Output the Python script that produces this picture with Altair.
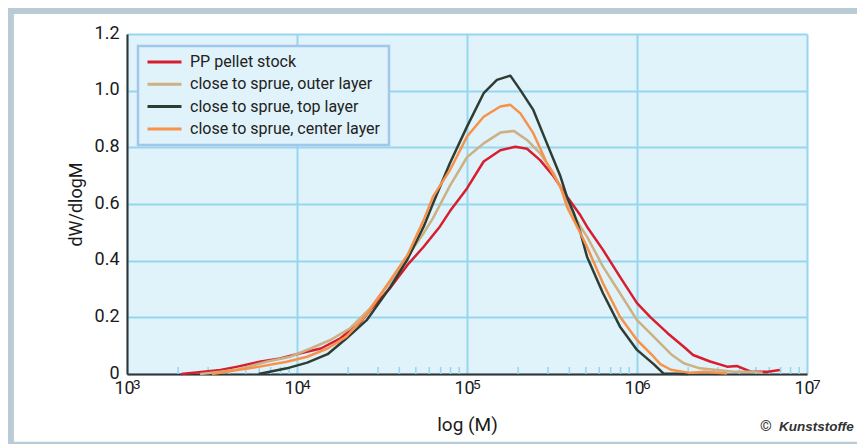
import altair as alt
import pandas as pd
import numpy as np

# ---------------- data ----------------
series_names = [
    "PP pellet stock",
    "close to sprue, outer layer",
    "close to sprue, top layer",
    "close to sprue, center layer",
]
series_colors = ["#D71E2E", "#CDB083", "#2E3D34", "#F7924A"]

red_logm = [3.32, 3.45, 3.55, 3.65, 3.78, 3.90, 4.02, 4.14, 4.255, 4.37, 4.43, 4.55, 4.65,
            4.745, 4.84, 4.90, 5.0, 5.098, 5.196, 5.284, 5.353, 5.43, 5.51, 5.59, 5.667,
            5.706, 5.80, 5.90, 6.0, 6.08, 6.18, 6.275, 6.33, 6.43, 6.53, 6.59, 6.67, 6.77, 6.84]
red_y = [0.0, 0.008, 0.014, 0.026, 0.043, 0.055, 0.073, 0.09, 0.126, 0.18, 0.225, 0.305, 0.385,
         0.449, 0.52, 0.575, 0.655, 0.75, 0.79, 0.802, 0.795, 0.755, 0.697, 0.625, 0.56,
         0.52, 0.438, 0.343, 0.25, 0.2, 0.144, 0.096, 0.067, 0.044, 0.026, 0.028, 0.008, 0.008, 0.014]

tan_logm = [3.43, 3.55, 3.65, 3.82, 3.96, 4.08, 4.196, 4.31, 4.43, 4.55, 4.65, 4.745, 4.80,
            4.90, 5.0, 5.098, 5.196, 5.275, 5.353, 5.43, 5.51, 5.59, 5.667, 5.706, 5.80,
            5.90, 6.0, 6.098, 6.137, 6.2, 6.275, 6.37, 6.47, 6.57, 6.67, 6.74]
tan_y = [0.0, 0.008, 0.016, 0.043, 0.061, 0.09, 0.12, 0.16, 0.232, 0.326, 0.415, 0.497, 0.55,
         0.665, 0.765, 0.814, 0.852, 0.858, 0.826, 0.779, 0.708, 0.605, 0.52, 0.485, 0.379,
         0.285, 0.19, 0.132, 0.108, 0.07, 0.038, 0.02, 0.014, 0.008, 0.008, 0.004]

black_logm = [3.774, 3.94, 4.06, 4.18, 4.29, 4.41, 4.55, 4.65, 4.745, 4.80, 4.90, 5.0, 5.098,
              5.176, 5.255, 5.314, 5.39, 5.47, 5.55, 5.588, 5.627, 5.667, 5.706, 5.80, 5.90,
              6.0, 6.098, 6.155, 6.3]
black_y = [0.0, 0.02, 0.04, 0.07, 0.125, 0.19, 0.308, 0.405, 0.52, 0.602, 0.745, 0.873, 0.991,
           1.038, 1.053, 1.002, 0.932, 0.814, 0.697, 0.625, 0.57, 0.5, 0.414, 0.285, 0.167,
           0.085, 0.035, 0.002, 0.0]

orange_logm = [3.50, 3.65, 3.78, 3.94, 4.06, 4.18, 4.29, 4.41, 4.55, 4.65, 4.745, 4.80, 4.90,
               5.0, 5.098, 5.196, 5.255, 5.314, 5.39, 5.47, 5.55, 5.588, 5.667, 5.706, 5.80,
               5.90, 6.0, 6.098, 6.137, 6.2, 6.31, 6.4, 6.53]
orange_y = [0.0, 0.014, 0.026, 0.043, 0.061, 0.09, 0.132, 0.21, 0.332, 0.42, 0.543, 0.626, 0.72,
            0.838, 0.908, 0.944, 0.95, 0.92, 0.85, 0.744, 0.661, 0.59, 0.497, 0.449, 0.32,
            0.202, 0.12, 0.061, 0.035, 0.015, 0.004, 0.008, 0.002]

x_ticks = [3, 4, 5, 6, 7]
x_tick_base = "10"
x_tick_exponents = ["3", "4", "5", "6", "7"]
y_ticks = [0, 0.2, 0.4, 0.6, 0.8, 1.0, 1.2]
minor_multipliers = [2, 3, 4, 5, 6, 7, 8, 9]
minor_decades = [3, 4, 5, 6]

x_title = "log (M)"
y_title = "dW/dlogM"
credit_symbol = ["©"]
credit_text = ["Kunststoffe"]

# ---------------- tables ----------------
frames = []
for name, xs, ys in zip(series_names,
                        [red_logm, tan_logm, black_logm, orange_logm],
                        [red_y, tan_y, black_y, orange_y]):
    frames.append(pd.DataFrame({"logM": xs, "y": ys, "series": name,
                                "order": list(range(len(xs)))}))
df = pd.concat(frames, ignore_index=True)

minor_df = pd.DataFrame({"logM": [d + float(np.log10(m)) for d in minor_decades
                                  for m in minor_multipliers]})
exp_df = pd.DataFrame({"logM": x_ticks, "exp": x_tick_exponents})

W, H = 680, 340
FONT = "Roboto"
GRID = "#96D6F0"
BG = "#E0F2FA"
TXT = "#1a1a1a"

x_scale = alt.Scale(domain=[3, 7], nice=False, zero=False)
y_label_expr = "datum.value == 0 ? '0' : format(datum.value, '.1f')"

x_enc = alt.X(
    "logM:Q",
    scale=x_scale,
    axis=alt.Axis(values=x_ticks, labelExpr=f"'{x_tick_base}'", title=x_title,
                  grid=True, gridColor=GRID, gridWidth=2, ticks=False,
                  domainColor="#333333", domainWidth=2, labelFlush=False,
                  labelFontSize=18, labelPadding=5, labelColor=TXT, labelOffset=-3,
                  labelFont=FONT, titleFont=FONT, titleFontSize=19,
                  titleFontWeight="normal", titleColor=TXT, titlePadding=18),
)
y_enc = alt.Y(
    "y:Q",
    scale=alt.Scale(domain=[0, 1.2], nice=False),
    axis=alt.Axis(values=y_ticks, labelExpr=y_label_expr, title=y_title,
                  grid=True, gridColor=GRID, gridWidth=2, ticks=False,
                  domainColor="#333333", domainWidth=2, labelFlush=False,
                  labelFontSize=18, labelPadding=8, labelColor=TXT, labelOffset=-1,
                  labelFont=FONT, titleFont=FONT, titleFontSize=18,
                  titleFontWeight="normal", titleColor=TXT, titlePadding=9),
)

lines = alt.Chart(df).mark_line(strokeWidth=2.5, strokeJoin="round").encode(
    x=x_enc,
    y=y_enc,
    color=alt.Color(
        "series:N",
        scale=alt.Scale(domain=series_names, range=series_colors),
        sort=series_names,
        legend=alt.Legend(orient="none", legendX=11, legendY=12, title=None,
                          symbolType="stroke", symbolSize=1156, symbolStrokeWidth=3,
                          clipHeight=16, rowPadding=6.3, labelFontSize=16,
                          labelFont=FONT, labelColor="#222222", labelOffset=7,
                          labelLimit=400, fillColor=BG, strokeColor="#A3C6EA",
                          padding=8),
    ),
    order="order:Q",
)

minor_ticks = alt.Chart(minor_df).mark_rule(color=GRID, strokeWidth=1.5).encode(
    x=alt.X("logM:Q", scale=x_scale),
    y=alt.value(H - 7),
    y2=alt.value(H),
)

exponents = alt.Chart(exp_df).mark_text(
    font=FONT, fontSize=13.5, color=TXT, align="left", baseline="alphabetic", dx=6
).encode(x=alt.X("logM:Q", scale=x_scale), y=alt.value(H + 15), text="exp:N")

frame = alt.Chart(pd.DataFrame({"k": [0]})).mark_rect(
    fill="transparent", stroke="#B9CBD4", strokeWidth=7
).encode(
    x=alt.value(-116.6), x2=alt.value(800), y=alt.value(-23.6), y2=alt.value(411.2)
)

credit_sym = alt.Chart(pd.DataFrame({"t": credit_symbol})).mark_text(
    font=FONT, fontSize=15, color="#333333", align="left", baseline="alphabetic"
).encode(text="t:N", x=alt.value(633), y=alt.value(397))

credit_txt = alt.Chart(pd.DataFrame({"t": credit_text})).mark_text(
    font="Liberation Sans", fontSize=13.5, fontWeight="bold", fontStyle="italic",
    color="#333333", align="left", baseline="alphabetic"
).encode(text="t:N", x=alt.value(652), y=alt.value(397))

chart = alt.layer(minor_ticks, lines, exponents, frame, credit_sym, credit_txt).properties(
    width=W, height=H,
    autosize=alt.AutoSizeParams(type="none"),
    padding={"left": 119, "top": 26, "right": 50, "bottom": 70},
    background="white",
).configure_view(
    fill=BG, stroke="transparent"
).configure_legend(strokeWidth=2.5)

chart.save("out.html", embed_options={"renderer": "svg", "actions": False})
